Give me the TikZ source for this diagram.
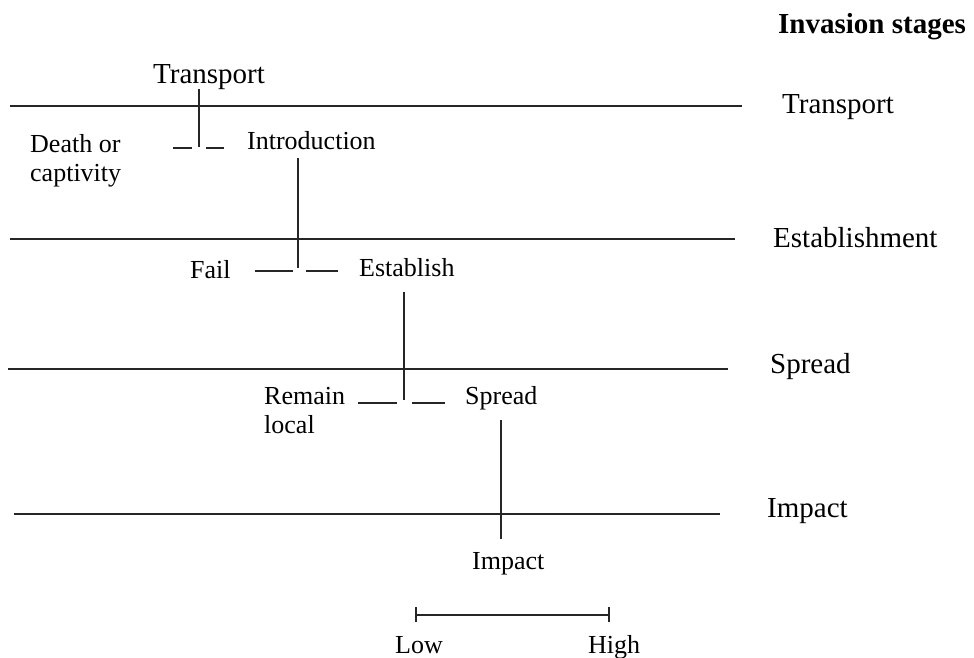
\documentclass[tikz,border=0pt]{standalone}
\usepackage{fontspec}
\setmainfont{Liberation Serif}
\begin{document}
\begin{tikzpicture}[x=1pt,y=-1pt,
  lbl/.style={anchor=base west,inner sep=0pt,font=\fontsize{26}{28}\selectfont},
  stg/.style={anchor=base west,inner sep=0pt,font=\fontsize{29}{32}\selectfont},
  ln/.style={line width=1.2pt,draw=black!85}]
\useasboundingbox (0,0) rectangle (974,657);
% stage lines
\coordinate (l1a) at (10,106); \coordinate (l1b) at (742,106);
\coordinate (l2a) at (10,239); \coordinate (l2b) at (735,239);
\coordinate (l3a) at (8,369);  \coordinate (l3b) at (728,369);
\coordinate (l4a) at (14,514); \coordinate (l4b) at (720,514);
\draw[ln] (l1a) -- (l1b);
\draw[ln] (l2a) -- (l2b);
\draw[ln] (l3a) -- (l3b);
\draw[ln] (l4a) -- (l4b);
% right labels
\node[stg,font=\fontsize{29}{32}\selectfont\bfseries] (title) at (778,33) {Invasion stages};
\node[stg] (sT) at (782,113) {Transport};
\node[stg] (sE) at (773,247) {Establishment};
\node[stg] (sS) at (770,373) {Spread};
\node[stg] (sI) at (767,517) {Impact};
% tree labels
\node[stg] (transport) at (153,83) {Transport};
\node[lbl] (death1) at (30,152) {Death or};
\node[lbl] (death2) at (30,181) {captivity};
\node[lbl] (intro) at (247,149) {Introduction};
\node[lbl] (fail) at (190,278) {Fail};
\node[lbl] (estab) at (359,276) {Establish};
\node[lbl] (remain1) at (264,404) {Remain};
\node[lbl] (remain2) at (264,433) {local};
\node[lbl] (spread) at (465,404) {Spread};
\node[lbl] (impact) at (472,569) {Impact};
\node[lbl] (low) at (395,653) {Low};
\node[lbl] (high) at (588,653) {High};
% connectors
\coordinate (t0) at (199,89);  \coordinate (t1) at (199,147);
\coordinate (dl0) at (173,148); \coordinate (dl1) at (192,148);
\coordinate (dr0) at (206,148); \coordinate (dr1) at (224,148);
\draw[ln] (t0) -- (t1);
\draw[ln] (dl0) -- (dl1);
\draw[ln] (dr0) -- (dr1);
\coordinate (i0) at (298,158); \coordinate (i1) at (298,268);
\coordinate (fl0) at (255,271); \coordinate (fl1) at (293,271);
\coordinate (fr0) at (306,271); \coordinate (fr1) at (338,271);
\draw[ln] (i0) -- (i1);
\draw[ln] (fl0) -- (fl1);
\draw[ln] (fr0) -- (fr1);
\coordinate (e0) at (404,292); \coordinate (e1) at (404,400);
\coordinate (rl0) at (358,403); \coordinate (rl1) at (397,403);
\coordinate (rr0) at (412,403); \coordinate (rr1) at (445,403);
\draw[ln] (e0) -- (e1);
\draw[ln] (rl0) -- (rl1);
\draw[ln] (rr0) -- (rr1);
\coordinate (s0) at (501,420); \coordinate (s1) at (501,539);
\draw[ln] (s0) -- (s1);
% scale bar
\coordinate (bL) at (416,615); \coordinate (bR) at (609,615);
\draw[ln] (bL) -- (bR);
\draw[ln] ([yshift=-7]bL) -- ([yshift=8]bL);
\draw[ln] ([yshift=-7]bR) -- ([yshift=8]bR);
\end{tikzpicture}
\end{document}
